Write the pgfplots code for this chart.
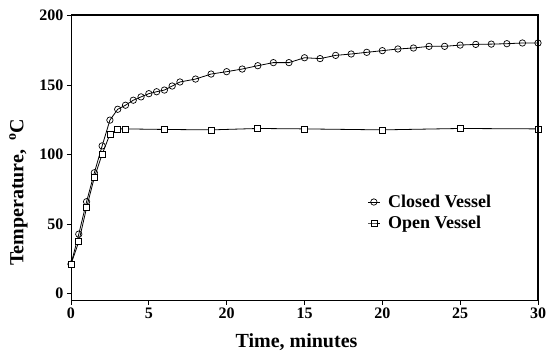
\documentclass[border=0pt]{standalone}
\usepackage{fontspec}
\setmainfont{Liberation Serif}
\usepackage{pgfplots}
\pgfplotsset{compat=1.18}
\begin{document}
\begin{tikzpicture}
\begin{axis}[
  scale only axis, width=467pt, height=285.4pt,
  at={(0pt,0pt)}, anchor=south west,
  xmin=0, xmax=30, ymin=-5, ymax=200,
  xtick={0,5,10,15,20,25,30}, xticklabels={0,5,20,15,20,25,30},
  ytick={0,50,100,150,200},
  tick pos=left,
  tick align=outside, major tick length=4pt,
  /pgf/number format/assume math mode=true,
  tick label style={font=\fontsize{16}{16}\selectfont\bfseries, black},
  xlabel={Time, minutes},
  ylabel={Temperature,\hspace{0.45em}\textsuperscript{o}C},
  label style={font=\fontsize{20}{20}\selectfont\bfseries},
  xlabel style={yshift=-8pt, xshift=-8pt},
  ylabel style={at={(ticklabel cs:0.38)}, yshift=5pt},
  axis line style={black, line width=0.8pt},
  tick style={black, line width=0.8pt},
  legend style={at={(0.6286,0.385)}, anchor=north west, draw=none, fill=none,
    font=\fontsize{18}{20}\selectfont\bfseries, row sep=3pt},
  legend cell align=left,
  legend image code/.code={\draw[#1, mark repeat=2, mark phase=2] plot coordinates {(0cm,0cm) (0.2cm,0cm) (0.4cm,0cm)}; \path (0.62cm,0cm);},
]
\addplot[black, line width=0.8pt, mark=o, mark size=3.2pt, mark options={fill=white, solid, line width=0.7pt}, forget plot] coordinates {
(0,21.3) (0.5,42.8) (1,66.1) (1.5,86.9) (2,106.2) (2.5,124.7) (3,132.5) (3.5,135.4)
(4,139) (4.5,141.4) (5,143.7) (5.5,145.1) (6,146.3) (6.5,149.2) (7,152.1) (8,154.2)
(9,157.8) (10,159.5) (11,161.4) (12,163.8) (13,166) (14,166) (15,169.5) (16,168.9)
(17,171.2) (18,172.2) (19,173.4) (20,174.6) (21,175.8) (22,176.5) (23,177.7) (24,177.7)
(25,178.6) (26,179.1) (27,179.3) (28,179.6) (29,180.1) (30,180.1)
};
\addplot[black, line width=0.8pt, mark=square*, mark size=3pt, mark options={fill=white, solid, line width=0.7pt}, forget plot] coordinates {
(0,21.3) (0.5,37.3) (1,61.8) (1.5,83.6) (2,100.1) (2.5,114.6) (3,118.4) (3.5,118.4)
(6,118) (9,117.7) (12,118.7) (15,118.4) (20,117.7) (25,118.7) (30,118.4)
};
\addlegendimage{black, line width=0.8pt, mark=o, mark size=3.2pt, mark options={solid, line width=0.7pt}}
\addlegendentry{Closed Vessel}
\addlegendimage{black, line width=0.8pt, mark=square, mark size=3pt, mark options={solid, line width=0.7pt}}
\addlegendentry{Open Vessel}
\end{axis}
\fill[black] (0pt,284.6pt) rectangle (467.8pt,286.2pt);
\fill[black] (466.2pt,0pt) rectangle (467.8pt,286.2pt);
\pgfresetboundingbox
\path (-71pt,-57.3pt) rectangle (477pt,300.7pt);
\end{tikzpicture}
\end{document}
